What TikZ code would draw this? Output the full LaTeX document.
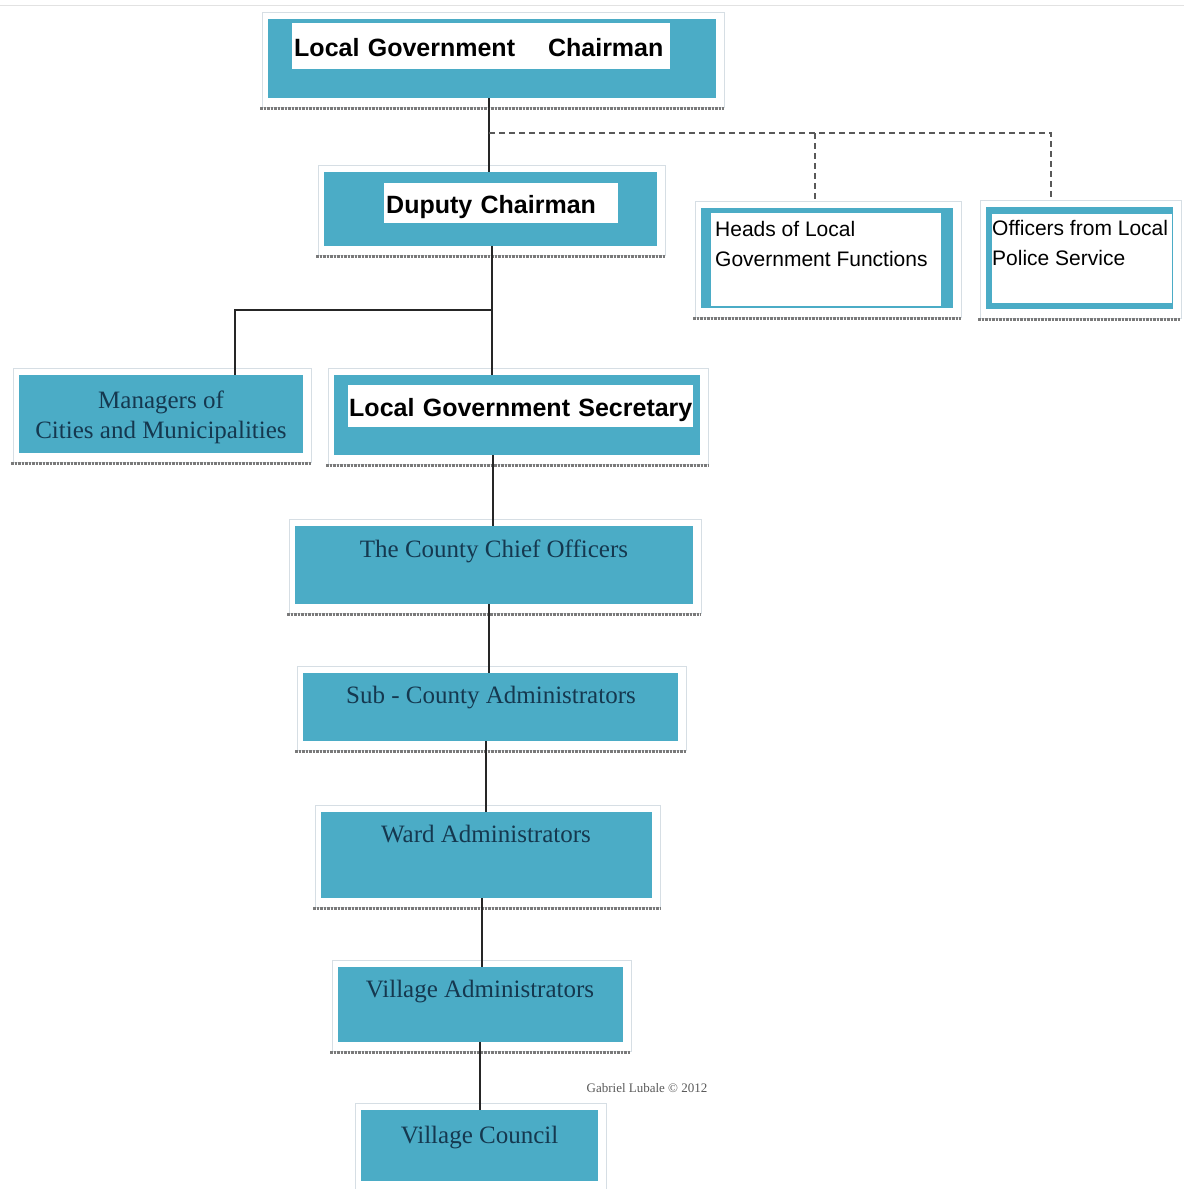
\documentclass[tikz,border=0pt]{standalone}
\usepackage{fontspec}
\setmainfont{Liberation Serif}
\setsansfont{Liberation Sans}
\definecolor{tealc}{HTML}{4BACC6}
\definecolor{navytxt}{HTML}{15384F}
\definecolor{framec}{HTML}{D6DEE4}
\definecolor{shadowc}{HTML}{7A7A7A}
\definecolor{topline}{HTML}{E2E2E2}
\newcommand\orgbox[5]{%
  \path[framebox] (#2-6,#3-7) rectangle (#4+8,#5+9);
  \draw[shadowline] (#2-8,#5+10) -- (#4+8,#5+10);
  \node[tealbox, minimum width=#4-#2, minimum height=#5-#3] (#1) at (#2,#3) {};
}
\begin{document}
\begin{tikzpicture}[x=1pt,y=-1pt,
  framebox/.style={fill=white, draw=framec, line width=0.8pt},
  shadowline/.style={draw=shadowc, line width=3pt, dash pattern=on 2.5pt off 1pt},
  tealbox/.style={fill=tealc, draw=none, inner sep=0pt, outer sep=0pt, anchor=north west},
  boldlbl/.style={fill=white, font=\sffamily\bfseries\fontsize{25}{30}\selectfont, inner ysep=0pt, anchor=north west, align=left, text height=24pt, text depth=4pt},
  sidelbl/.style={font=\sffamily\fontsize{21}{30}\selectfont, inner sep=0pt, anchor=north west, align=left},
  serlbl/.style={text=navytxt, font=\fontsize{25}{30}\selectfont, inner sep=0pt, anchor=base, align=center},
  conn/.style={draw=black!85, line width=1.4pt},
  dconn/.style={draw=black!65, line width=1.6pt, dash pattern=on 6pt off 4pt}
]
\useasboundingbox (0,0) rectangle (1184,1189);
\draw[topline, line width=1pt] (0,5) -- (1184,5);

% boxes
\orgbox{chair}{268}{19}{716}{98}
\orgbox{dep}{324}{172}{657}{246}
\orgbox{heads}{701}{208}{953}{308}
\orgbox{offi}{986}{207}{1173}{309}
\orgbox{mgr}{19}{375}{303}{453}
\orgbox{sec}{334}{375}{700}{455}
\orgbox{cco}{295}{526}{693}{604}
\orgbox{sub}{303}{673}{678}{741}
\orgbox{ward}{321}{812}{652}{898}
\orgbox{vadm}{338}{967}{623}{1042}
\orgbox{vc}{361}{1110}{598}{1181}

% white insides of the side boxes
\fill[white] (711,213) rectangle (941,306);
\fill[white] (992,214) rectangle (1172,303);

% bold labels on white
\node[boldlbl, minimum height=46pt, inner xsep=2pt, text width=374pt] (chairlbl) at (292,23)
  {\mbox{Local Government\hspace{1.32em}Chairman}};
\node[boldlbl, minimum height=40pt, inner xsep=2pt, text width=230pt] (deplbl) at (384,183)
  {\mbox{Duputy Chairman}};
\node[boldlbl, minimum height=42pt, inner xsep=1pt, text width=343pt] (seclbl) at (348,385)
  {\mbox{Local Government Secretary}};

% side box texts
\node[sidelbl] (headslbl) at (715,221) {Heads of Local\\Government Functions};
\node[sidelbl] (offilbl) at (992,220) {Officers from Local\\Police Service};

% serif texts
\node[serlbl, anchor=north] (mgrlbl) at (161,391) {Managers of\\Cities and Municipalities};
\node[serlbl] (ccolbl) at (494,557) {The County Chief Officers};
\node[serlbl] (sublbl) at (491,703) {Sub - County Administrators};
\node[serlbl] (wardlbl) at (486,842) {Ward Administrators};
\node[serlbl] (vadmlbl) at (480,997) {Village Administrators};
\node[serlbl] (vclbl) at (479.5,1143) {Village Council};

\node[text=black!65, font=\fontsize{13}{15}\selectfont, inner sep=0pt] (copy) at (647,1088) {Gabriel Lubale © 2012};

% connectors
\coordinate (jtop) at (489,133);
\coordinate (hx) at (815,0);
\coordinate (ox) at (1051,0);
\coordinate (jdep) at (492,310);
\coordinate (mx) at (235,0);
\coordinate (x3) at (493,0);
\coordinate (x4) at (489,0);
\coordinate (x5) at (486,0);
\coordinate (x6) at (482,0);
\coordinate (x7) at (480,0);

\draw[conn] (jtop |- chair.south) -- (jtop |- dep.north);
\draw[dconn] (jtop) -- (jtop -| ox) -- ([yshift=10pt]ox |- offi.north);
\draw[dconn] (jtop -| hx) -- ([yshift=6pt]hx |- heads.north);
\draw[conn] (jdep |- dep.south) -- (jdep |- sec.north);
\draw[conn] (jdep) -- (jdep -| mx) -- (mx |- mgr.north);
\draw[conn] (x3 |- sec.south) -- (x3 |- cco.north);
\draw[conn] (x4 |- cco.south) -- (x4 |- sub.north);
\draw[conn] (x5 |- sub.south) -- (x5 |- ward.north);
\draw[conn] (x6 |- ward.south) -- (x6 |- vadm.north);
\draw[conn] (x7 |- vadm.south) -- (x7 |- vc.north);
\end{tikzpicture}
\end{document}
